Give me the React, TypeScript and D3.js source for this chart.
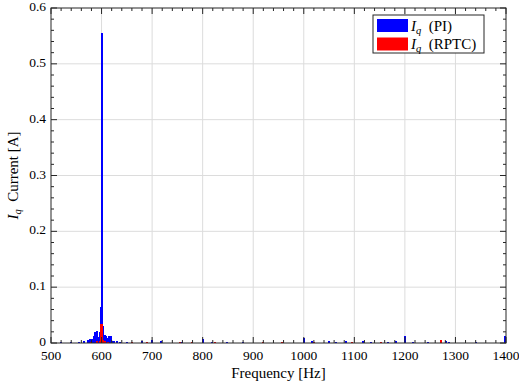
import * as d3 from "d3";

// spectrum bins (Hz) and amplitudes (A)
const piFreq = [
  520, 540, 556, 566, 574, 578, 582, 586, 588, 590, 592, 594, 596, 598, 599, 600, 601, 602, 604, 606,
  608, 610, 612, 614, 616, 618, 620, 624, 630, 636, 650, 680, 700, 718, 760, 800, 819, 849, 880,
  1000, 1017, 1049, 1063, 1083, 1117, 1133, 1166, 1182, 1200, 1216, 1245, 1281, 1288, 1340, 1399,
];
const piAmp = [
  0.001, 0.002, 0.002, 0.003, 0.005, 0.007, 0.007, 0.012, 0.02, 0.022, 0.011, 0.01, 0.02, 0.032, 0.065,
  0.555, 0.06, 0.03, 0.014, 0.014, 0.012, 0.008, 0.009, 0.012, 0.013, 0.012, 0.004, 0.003, 0.003, 0.002,
  0.002, 0.003, 0.006, 0.003, 0.001, 0.008, 0.002, 0.002, 0.001,
  0.009, 0.003, 0.003, 0.002, 0.003, 0.003, 0.002, 0.002, 0.003, 0.012, 0.002, 0.002, 0.003, 0.002,
  0.001, 0.012,
];
const rptcFreq = [
  580, 590, 596, 598, 599, 600, 601, 602, 606, 612, 660, 690, 756, 779, 825, 920, 957, 1020, 1096,
  1153, 1271,
];
const rptcAmp = [
  0.002, 0.003, 0.004, 0.008, 0.034, 0.034, 0.02, 0.006, 0.003, 0.002, 0.001, 0.001, 0.002, 0.002,
  0.001, 0.002, 0.002, 0.001, 0.002, 0.002, 0.005,
];

const xTicks = [500, 600, 700, 800, 900, 1000, 1100, 1200, 1300, 1400];
const yTicks = [0, 0.1, 0.2, 0.3, 0.4, 0.5, 0.6];
const seriesNames = ["(PI)", "(RPTC)"];
const seriesColors = ["#0000ff", "#ff0000"];

const W = 519;
const H = 383;
const margin = { top: 8, right: 13, bottom: 40, left: 51 };
const FONT = "'Liberation Serif', 'DejaVu Serif', serif";
const AXIS = "#262626";

export default function App() {
  const x = d3.scaleLinear().domain([500, 1400]).range([margin.left, W - margin.right]);
  const y = d3.scaleLinear().domain([0, 0.6]).range([H - margin.bottom, margin.top]);
  const [x0, x1] = x.range();
  const [y0, y1] = y.range();

  const xMinor = d3.range(500, 1401, 20);
  const yMinor = d3.range(0, 0.6001, 0.02);
  const barW = 2;

  const bars = (freq: number[], amp: number[], color: string) =>
    freq.map((f, i) => (
      <rect
        key={f}
        x={x(f) - barW / 2}
        y={y(amp[i])}
        width={barW}
        height={y(0) - y(amp[i])}
        fill={color}
      />
    ));

  const legendX = 373;
  const legendY = 15;

  return (
    <div style={{ position: "absolute", left: 0, top: 0 }}>
      <svg width={W} height={H} style={{ display: "block", background: "#fff" }} fontFamily={FONT}>
        {/* grid */}
        <g stroke="#dcdcdc" strokeWidth={1}>
          {xTicks.slice(1, -1).map((t) => (
            <line key={t} x1={x(t)} x2={x(t)} y1={y0} y2={y1} />
          ))}
          {yTicks.slice(1, -1).map((t) => (
            <line key={t} x1={x0} x2={x1} y1={y(t)} y2={y(t)} />
          ))}
        </g>

        {/* bars */}
        <g shapeRendering="crispEdges">
          {bars(piFreq, piAmp, seriesColors[0])}
          {bars(rptcFreq, rptcAmp, seriesColors[1])}
        </g>

        {/* ticks (inward, all four sides) */}
        <g stroke={AXIS} strokeWidth={1}>
          {xMinor.map((t) => {
            const len = t % 100 === 0 ? 6 : 3;
            return (
              <g key={t}>
                <line x1={x(t)} x2={x(t)} y1={y0} y2={y0 - len} />
                <line x1={x(t)} x2={x(t)} y1={y1} y2={y1 + len} />
              </g>
            );
          })}
          {yMinor.map((t, i) => {
            const len = i % 5 === 0 ? 6 : 3;
            return (
              <g key={i}>
                <line x1={x0} x2={x0 + len} y1={y(t)} y2={y(t)} />
                <line x1={x1} x2={x1 - len} y1={y(t)} y2={y(t)} />
              </g>
            );
          })}
          <rect x={x0} y={y1} width={x1 - x0} height={y0 - y1} fill="none" />
        </g>

        {/* tick labels */}
        <g fontSize={13.5} fill="#000">
          {xTicks.map((t) => (
            <text key={t} x={x(t)} y={y0 + 17} textAnchor="middle">
              {t}
            </text>
          ))}
          {yTicks.map((t) => (
            <text key={t} x={x0 - 5} y={y(t) + 3} textAnchor="end">
              {t}
            </text>
          ))}
        </g>

        {/* axis titles */}
        <text x={(x0 + x1) / 2} y={H - 5} textAnchor="middle" fontSize={15}>
          Frequency [Hz]
        </text>
        <text
          transform={`translate(18,${(y0 + y1) / 2}) rotate(-90)`}
          textAnchor="middle"
          fontSize={15}
        >
          <tspan fontStyle="italic">I</tspan>
          <tspan fontStyle="italic" fontSize={10.5} dy={3}>q</tspan>
          <tspan dy={-3}>{"\u2002"}Current [A]</tspan>
        </text>

        {/* legend */}
        <g>
          <rect x={legendX} y={legendY} width={111} height={38} fill="#fff" stroke={AXIS} strokeWidth={1} />
          {seriesNames.map((name, i) => (
            <g key={name} transform={`translate(${legendX + 4},${legendY + 4 + i * 18.5})`}>
              <rect width={31} height={13} fill={seriesColors[i]} />
              <text x={34} y={11.5} fontSize={15}>
                <tspan fontStyle="italic">I</tspan>
                <tspan fontStyle="italic" fontSize={10.5} dy={3}>q</tspan>
                <tspan dy={-3}>{"\u2002"}{name}</tspan>
              </text>
            </g>
          ))}
        </g>
      </svg>
    </div>
  );
}
